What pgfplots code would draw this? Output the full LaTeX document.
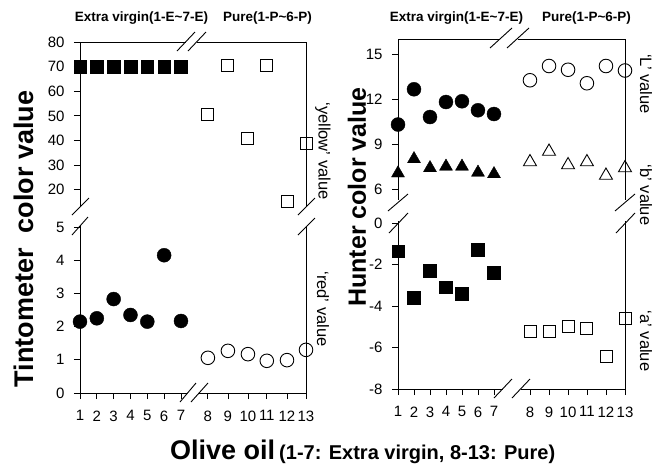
\documentclass[border=0pt]{standalone}
\usepackage{pgfplots}
\pgfplotsset{compat=1.18}
\usepackage{fontspec}
\setmainfont{Liberation Sans}

\pgfplotsset{
  brk/.style={scale only axis, axis line style={draw=none}, clip=false,
    tick align=outside, ytick pos=left, xtick pos=bottom, major tick length=6pt,
    tick style={black, line width=0.8pt},
    tick label style={font=\fontsize{15}{15}\selectfont},
    yticklabel style={xshift=-6pt},
    xticklabel style={yshift=-8pt},
    /pgf/number format/assume math mode=true},
  fsq/.style={only marks, mark=square*, mark size=6.3pt, mark options={fill=black, draw=black}},
  osq/.style={only marks, mark=square*, mark size=6pt, mark options={fill=white, draw=black, line width=0.9pt}},
  fci/.style={only marks, mark=*, mark size=7pt, mark options={fill=black, draw=black}},
  oci/.style={only marks, mark=*, mark size=6.8pt, mark options={fill=white, draw=black, line width=0.9pt}},
  ftr/.style={only marks, mark=triangle*, mark size=7.5pt, mark options={fill=black, draw=black}},
  otr/.style={only marks, mark=triangle*, mark size=7.5pt, mark options={fill=white, draw=black, line width=0.9pt}},
}

\begin{document}
\begin{tikzpicture}
\path[use as bounding box] (0pt,0pt) rectangle (662pt,-464pt);

% ---------------- Left panel: Tintometer ----------------
\begin{axis}[brk, at={(80pt,-42pt)}, anchor=north west, width=226pt, height=165pt,
  xmin=0, xmax=13.43, ymin=13, ymax=80, xtick=\empty, ytick={20,30,...,80}]
  \addplot[fsq] coordinates {(0,70)(1,70)(2,70)(3,70)(4,70)(5,70)(6,70)};
  \addplot[osq] coordinates {(7.6,50.5)(8.79,70.5)(9.98,40.7)(11.1,70.5)(12.3,15.1)(13.43,39)};
\end{axis}
\begin{axis}[brk, at={(80pt,-393pt)}, anchor=south west, width=226pt, height=166pt,
  xmin=0, xmax=13.43, ymin=0, ymax=5, ytick={0,1,...,5},
  xtick={0,1,2,3,4,5,6,7.6,8.79,9.98,11.1,12.3,13.43},
  xticklabels={1,2,3,4,5,6,7,8,9,10,11,12,13}]
  \addplot[fci] coordinates {(0,2.15)(1,2.25)(2,2.83)(3,2.35)(4,2.15)(5,4.15)(6,2.17)};
  \addplot[oci] coordinates {(7.6,1.06)(8.79,1.27)(9.98,1.17)(11.1,0.97)(12.3,0.99)(13.43,1.3)};
\end{axis}

% ---------------- Right panel: Hunter ----------------
\begin{axis}[brk, at={(398pt,-39pt)}, anchor=north west, width=227pt, height=161pt,
  xmin=0, xmax=14.19, ymin=5.267, ymax=16, xtick=\empty, ytick={6,9,12,15}]
  \addplot[fci] coordinates {(0,10.3)(1,12.65)(2,10.8)(3,11.8)(4,11.85)(5,11.25)(6,11.0)};
  \addplot[oci] coordinates {(8.25,13.25)(9.44,14.2)(10.63,13.95)(11.81,13.05)(13.0,14.2)(14.19,13.9)};
  \addplot[ftr] coordinates {(0,7.05)(1,8.0)(2,7.4)(3,7.5)(4,7.5)(5,7.1)(6,7.0)};
  \addplot[otr] coordinates {(8.25,7.8)(9.44,8.5)(10.63,7.6)(11.81,7.8)(13.0,6.9)(14.19,7.4)};
\end{axis}
\begin{axis}[brk, at={(398pt,-389pt)}, anchor=south west, width=227pt, height=168pt,
  xmin=0, xmax=14.19, ymin=-8, ymax=0.096, ytick={-8,-6,-4,-2,0},
  yticklabels={-8,-6,-4,-2,0},
  xtick={0,1,2,3,4,5,6,8.25,9.44,10.63,11.81,13.0,14.19},
  xticklabels={1,2,3,4,5,6,7,8,9,10,11,12,13}]
  \addplot[fsq] coordinates {(0,-1.35)(1,-3.6)(2,-2.3)(3,-3.1)(4,-3.4)(5,-1.3)(6,-2.4)};
  \addplot[osq] coordinates {(8.25,-5.25)(9.44,-5.25)(10.63,-5.0)(11.81,-5.1)(13.0,-6.45)(14.19,-4.6)};
\end{axis}

% ---------------- axis frames with breaks ----------------
\begin{scope}[line width=0.9pt, black]
  % left panel
  \draw (80pt,-42pt) -- (80pt,-207pt);
  \draw (80pt,-226pt) -- (80pt,-393pt);
  \draw (306pt,-42pt) -- (306pt,-207pt);
  \draw (306pt,-226pt) -- (306pt,-393pt);
  \draw (80pt,-42pt) -- (186pt,-42pt);
  \draw (197pt,-42pt) -- (306pt,-42pt);
  \draw (80pt,-393pt) -- (187pt,-393pt);
  \draw (199pt,-393pt) -- (306pt,-393pt);
  \draw (72pt,-215pt) -- (89pt,-198pt);
  \draw (72pt,-235pt) -- (88pt,-217pt);
  \draw (298pt,-215pt) -- (315pt,-198pt);
  \draw (298pt,-235pt) -- (315pt,-218pt);
  \draw (177pt,-51pt) -- (195pt,-32pt);
  \draw (188pt,-51pt) -- (206pt,-32pt);
  \draw (180pt,-402pt) -- (196pt,-383pt);
  \draw (191pt,-402pt) -- (208pt,-383pt);
  % right panel
  \draw (398pt,-39pt) -- (398pt,-200pt);
  \draw (398pt,-221pt) -- (398pt,-389pt);
  \draw (625pt,-39pt) -- (625pt,-200pt);
  \draw (625pt,-221pt) -- (625pt,-389pt);
  \draw (398pt,-39pt) -- (500pt,-39pt);
  \draw (518pt,-39pt) -- (625pt,-39pt);
  \draw (398pt,-389pt) -- (503pt,-389pt);
  \draw (521pt,-389pt) -- (625pt,-389pt);
  \draw (388pt,-211pt) -- (408pt,-194pt);
  \draw (389pt,-233pt) -- (408pt,-213pt);
  \draw (615pt,-211pt) -- (635pt,-194pt);
  \draw (616pt,-233pt) -- (635pt,-213pt);
  \draw (490pt,-48pt) -- (512pt,-28pt);
  \draw (507pt,-48pt) -- (529pt,-28pt);
  \draw (494pt,-398pt) -- (512pt,-379pt);
  \draw (512pt,-398pt) -- (530pt,-379pt);
\end{scope}

% ---------------- texts ----------------
\newcommand{\topfont}{\fontsize{13.5}{13.5}\selectfont\bfseries}
\newcommand{\sidefont}{\fontsize{16.5}{16.5}\selectfont}
\node[font=\topfont, inner sep=0pt] at (141.5pt,-18pt) {Extra virgin(1-E\textasciitilde7-E)};
\node[font=\topfont, inner sep=0pt] at (267.5pt,-18pt) {Pure(1-P\textasciitilde6-P)};
\node[font=\topfont, inner sep=0pt] at (456.5pt,-18pt) {Extra virgin(1-E\textasciitilde7-E)};
\node[font=\topfont, inner sep=0pt] at (586.5pt,-18pt) {Pure(1-P\textasciitilde6-P)};

\node[font=\fontsize{27}{27}\selectfont\bfseries, rotate=90, inner sep=0pt] at (24pt,-239pt) {Tintometer\ \ color value};
\node[font=\fontsize{25}{25}\selectfont\bfseries, rotate=90, inner sep=0pt] at (357pt,-197pt) {Hunter color value};

\node[font=\sidefont, rotate=-90, inner sep=0pt] at (323pt,-151pt) {`yellow' value};
\node[font=\sidefont, rotate=-90, inner sep=0pt] at (323pt,-309pt) {`red' value};
\node[font=\sidefont, rotate=-90, inner sep=0pt] at (646pt,-84pt) {`L' value};
\node[font=\sidefont, rotate=-90, inner sep=0pt] at (646pt,-195pt) {`b' value};
\node[font=\sidefont, rotate=-90, inner sep=0pt] at (646pt,-341pt) {`a' value};

\node[anchor=base west, inner sep=0pt] at (170pt,-459pt)
  {{\fontsize{27}{27}\selectfont\bfseries Olive oil}\hspace{4pt}{\fontsize{20}{20}\selectfont\bfseries (1-7: Extra virgin, 8-13: Pure)}};
\end{tikzpicture}
\end{document}
